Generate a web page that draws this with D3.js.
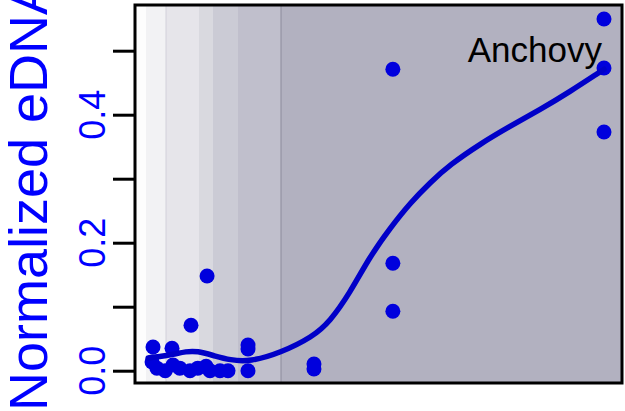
<!DOCTYPE html>
<html>
<head>
<meta charset="utf-8">
<script src="https://cdn.jsdelivr.net/npm/d3@7"></script>
<style>
  html, body { margin: 0; padding: 0; background: #ffffff; }
  svg { display: block; font-family: "Liberation Sans", Arial, Helvetica, sans-serif; }
</style>
</head>
<body>
<svg id="chart" width="625" height="411"></svg>
<script>
// ---- data ----
const speciesLabel = "Anchovy";
const yTitle = "Normalized eDNA";
const yTicks = [0, 0.1, 0.2, 0.3, 0.4, 0.5];
const yTickLabels = ["0.0", "", "0.2", "", "0.4", ""];

// background bands (x start, x end in sample units) with shade
const bandStarts = [0, 2.26, 6.37, 13.14, 16.0, 21.15, 29.98];
const bandEnds   = [2.26, 6.37, 13.14, 16.0, 21.15, 29.98, 100];
const bandFills  = ["#fdfdfd", "#f2f2f4", "#e6e5ea", "#d9d9df", "#cbcbd5", "#c0bfcc", "#b2b1c0"];

// observations
const obsX = [3.7, 3.5, 4.5, 6.2, 7.6, 7.8, 9.2, 11.5, 11.3, 12.9, 14.8, 14.6, 15.4, 17.45, 19.1,
              23.2, 23.2, 23.2, 36.75, 36.75, 52.95, 52.95, 52.95, 96.3, 96.3, 96.3];
const obsY = [0.037, 0.0136, 0.004, 0.0, 0.035, 0.009, 0.004, 0.071, 0.0, 0.004, 0.148, 0.007, 0.0, 0.0, 0.0,
              0.040, 0.034, 0.0, 0.0105, 0.0027, 0.471, 0.168, 0.093, 0.5495, 0.473, 0.373];

// smoothed fit
const fitX = [2.7, 5.0, 7.8, 10.5, 12.7, 16.4, 19.5, 23.6, 29.8, 36.5, 40.0, 44.1, 48.2, 52.4, 56.5, 60.6, 64.7,
              70.8, 77.0, 83.2, 89.3, 95.5, 96.3];
const fitY = [0.020, 0.022, 0.0255, 0.030, 0.031, 0.023, 0.0167, 0.014, 0.0277, 0.053, 0.0766, 0.121, 0.178, 0.223,
              0.262, 0.294, 0.322, 0.354, 0.382, 0.408, 0.436, 0.467, 0.471];

// ---- layout ----
const svg = d3.select("#chart");
const L = 135, R = 622, T = 5, B = 383;

const x = d3.scaleLinear().domain([0, 100]).range([L, R]);
const y = d3.scaleLinear().domain([-0.0192, 0.5714]).range([B, T]);

// bands
svg.append("g").selectAll("rect")
  .data(bandStarts.map((s, i) => ({ s, e: bandEnds[i], f: bandFills[i] })))
  .join("rect")
  .attr("x", d => x(d.s))
  .attr("y", T)
  .attr("width", d => x(d.e) - x(d.s))
  .attr("height", B - T)
  .attr("fill", d => d.f);

// band separator lines
svg.append("line")
  .attr("x1", x(bandStarts[2])).attr("x2", x(bandStarts[2]))
  .attr("y1", T).attr("y2", B)
  .attr("stroke", "#d2d1da").attr("stroke-width", 1);
svg.append("line")
  .attr("x1", x(bandStarts[6])).attr("x2", x(bandStarts[6]))
  .attr("y1", T).attr("y2", B)
  .attr("stroke", "#8c8b9c").attr("stroke-width", 1);

// points
svg.append("g").selectAll("circle")
  .data(obsX.map((v, i) => [v, obsY[i]]))
  .join("circle")
  .attr("cx", d => x(d[0]))
  .attr("cy", d => y(d[1]))
  .attr("r", 7.5)
  .attr("fill", "#0000dd");

// fit line
const line = d3.line()
  .x(d => x(d[0]))
  .y(d => y(d[1]))
  .curve(d3.curveBasis);
svg.append("path")
  .datum(fitX.map((v, i) => [v, fitY[i]]))
  .attr("d", line)
  .attr("fill", "none")
  .attr("stroke", "#0000c8")
  .attr("stroke-width", 5.5)
  .attr("stroke-linecap", "round");

// frame
svg.append("rect")
  .attr("x", L).attr("y", T)
  .attr("width", R - L).attr("height", B - T)
  .attr("fill", "none")
  .attr("stroke", "#000")
  .attr("stroke-width", 3);

// y axis
const yAxis = d3.axisLeft(y).tickValues(yTicks).tickSize(22).tickFormat("");
const ga = svg.append("g").attr("transform", `translate(${L},0)`).call(yAxis);
ga.select(".domain").remove();
ga.selectAll(".tick line").attr("stroke", "#000").attr("stroke-width", 3);

svg.append("g").selectAll("text")
  .data(yTicks.map((v, i) => [v, yTickLabels[i]]).filter(d => d[1] !== ""))
  .join("text")
  .attr("transform", d => `translate(105,${y(d[0])}) rotate(-90)`)
  .attr("text-anchor", "middle")
  .attr("font-size", 36)
  .attr("fill", "#0000ff")
  .text(d => d[1]);

// y title (clipped at the top edge in the original as well)
svg.append("text")
  .attr("transform", `translate(47,195) rotate(-90)`)
  .attr("text-anchor", "middle")
  .attr("font-size", 54)
  .attr("fill", "#0000ff")
  .text(yTitle);

// species label
svg.append("text")
  .attr("x", 602).attr("y", 62)
  .attr("text-anchor", "end")
  .attr("font-size", 35)
  .attr("fill", "#000")
  .text(speciesLabel);
</script>
</body>
</html>
